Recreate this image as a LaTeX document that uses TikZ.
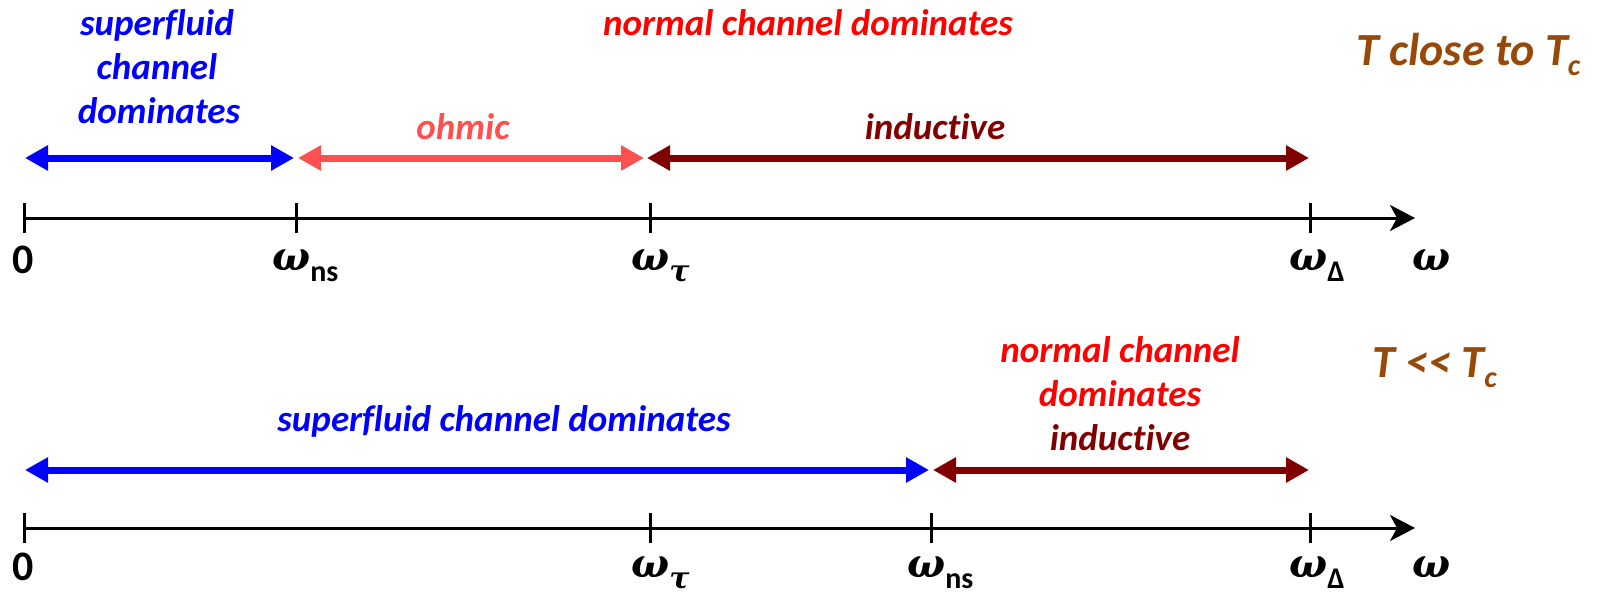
\documentclass[tikz,border=0pt]{standalone}
\usepackage{fontspec}
\setmainfont{Carlito}[Ligatures=NoCommon]
\newfontfamily\gkfont{DejaVu Serif}
\usetikzlibrary{arrows.meta}
\definecolor{sfblue}{HTML}{0000FF}
\definecolor{ohm}{HTML}{FF5050}
\definecolor{ind}{HTML}{800000}
\definecolor{nrm}{HTML}{FF0000}
\definecolor{tcol}{HTML}{984807}
\newcommand{\omg}{{\gkfont\bfseries\itshape ω}}
\newcommand{\omlab}[1]{\omg\raisebox{-11pt}{\fontsize{30}{30}\selectfont #1}}
\newcommand{\tsub}[1]{\raisebox{-10pt}{\fontsize{30}{30}\selectfont #1}}
\tikzset{
  lab/.style={font=\bfseries\itshape\fontsize{37}{44}\selectfont, inner sep=0pt, anchor=base},
  tlab/.style={font=\bfseries\itshape\fontsize{46}{48}\selectfont, text=tcol, inner sep=0pt, anchor=base west},
  axl/.style={font=\bfseries\fontsize{40}{42}\selectfont, inner sep=0pt, anchor=base west},
  zero/.style={font=\bfseries\fontsize{42}{44}\selectfont, inner sep=0pt, anchor=base},
  axis/.style={line width=3pt, -{Stealth[length=25pt,width=26pt,inset=7pt]}},
  tick/.style={line width=3pt},
  rng/.style={line width=7pt, {Triangle[length=23pt,width=24pt]}-{Triangle[length=23pt,width=24pt]}},
}
\begin{document}
\begin{tikzpicture}[x=1pt,y=-1pt]
\useasboundingbox (0,0) rectangle (1600,597);
% ---------- top ----------
\coordinate (a0) at (24,218);
\coordinate (ans) at (296,218);
\coordinate (atau) at (650,218);
\coordinate (aD) at (1310,218);
\coordinate (aend) at (1415,218);
\draw[axis] (a0) -- (aend);
\foreach \c in {a0,ans,atau,aD} \draw[tick] ([yshift=-15pt]\c) -- ([yshift=15pt]\c);
\node[zero] (l0) at (23,273) {0};
\node[axl] (lns) at (272,270) {\omlab{ns}};
\node[axl] (ltau) at (631,270) {\omlab{\gkfont\bfseries\itshape τ}};
\node[axl] (lD) at (1289,270) {\omlab{Δ}};
\node[axl] (lw) at (1412,270) {\omg};

\coordinate (b0) at (25,158);
\coordinate (b1) at (294,158);
\coordinate (b2) at (298,158);
\coordinate (b3) at (644,158);
\coordinate (b4) at (647,158);
\coordinate (b5) at (1309,158);
\draw[rng, sfblue] (b0) -- (b1);
\draw[rng, ohm] (b2) -- (b3);
\draw[rng, ind] (b4) -- (b5);

\node[lab, text=sfblue] (sf1a) at (157,35) {superfluid};
\node[lab, text=sfblue] (sf1b) at (157,79) {channel};
\node[lab, text=sfblue] (sf1c) at (159,123) {dominates};
\node[lab, text=nrm] (nc1) at (808,35) {normal channel dominates};
\node[lab, text=ohm] (ohmic) at (463,139) {ohmic};
\node[lab, text=ind] (ind1) at (935,139) {inductive};
\node[tlab] (tc1) at (1356,65) {T close to T\tsub{c}};

% ---------- bottom ----------
\coordinate (c0) at (24,528);
\coordinate (ctau) at (650,528);
\coordinate (cns) at (931,528);
\coordinate (cD) at (1310,528);
\coordinate (cend) at (1415,528);
\draw[axis] (c0) -- (cend);
\foreach \c in {c0,ctau,cns,cD} \draw[tick] ([yshift=-15pt]\c) -- ([yshift=15pt]\c);
\node[zero] (m0) at (23,580) {0};
\node[axl] (mtau) at (631,577) {\omlab{\gkfont\bfseries\itshape τ}};
\node[axl] (mns) at (907,577) {\omlab{ns}};
\node[axl] (mD) at (1289,577) {\omlab{Δ}};
\node[axl] (mw) at (1412,577) {\omg};

\coordinate (d0) at (25,470);
\coordinate (d1) at (929,470);
\coordinate (d2) at (933,470);
\coordinate (d3) at (1309,470);
\draw[rng, sfblue] (d0) -- (d1);
\draw[rng, ind] (d2) -- (d3);

\node[lab, text=sfblue] (sf2) at (504,431) {superfluid channel dominates};
\node[lab, text=nrm] (nc2a) at (1120,362) {normal channel};
\node[lab, text=nrm] (nc2b) at (1120,406) {dominates};
\node[lab, text=ind] (ind2) at (1120,450) {inductive};
\node[tlab] (tc2) at (1372,377) {T {<}{<} T\tsub{c}};
\end{tikzpicture}
\end{document}
